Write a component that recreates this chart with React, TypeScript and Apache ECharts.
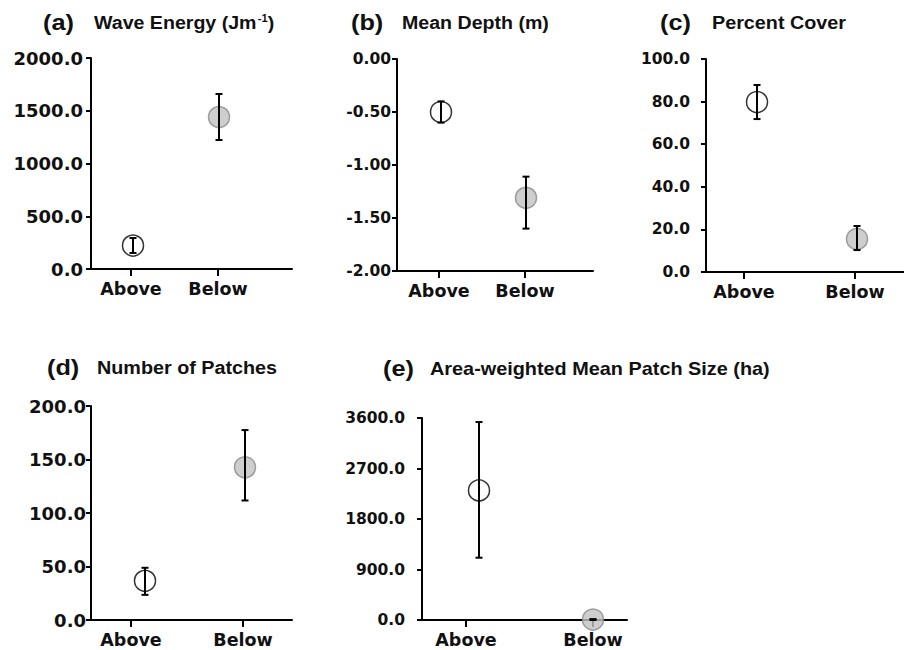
import React, { useEffect, useRef } from "react";
import * as echarts from "echarts";

// ---- data ----
const categories = ["Above", "Below"];

const waveMean = [222, 1440];
const waveLow = [152, 1223];
const waveHigh = [294, 1659];

const depthMean = [-0.5, -1.31];
const depthLow = [-0.6, -1.6];
const depthHigh = [-0.4, -1.11];

const coverMean = [79.8, 15.5];
const coverLow = [71.8, 10.3];
const coverHigh = [87.8, 21.6];

const patchMean = [36.6, 142.7];
const patchLow = [23.5, 111.7];
const patchHigh = [48.8, 177.5];

const sizeMean = [2310, 8];
const sizeLow = [1110, 0];
const sizeHigh = [3528, 16];

const yTicksWave = [0, 2000, 500];
const yTicksDepth = [-2, 0, 0.5];
const yTicksCover = [0, 100, 20];
const yTicksPatch = [0, 200, 50];
const yTicksSize = [0, 3600, 900];

// ---- layout / style (not data) ----
const FONT = "'DejaVu Sans', sans-serif";
const TFONT = "'Liberation Sans', Arial, sans-serif";

const panels = [
  {
    tag: "(a)", title: "{n|Wave Energy (Jm}{s|-1}{n|)}", tagX: 43, titleX: 94, titleY: 23, titleScale: 1.12,
    left: 91, top: 58, right: 292, bottom: 269, ticks: [131, 218], shift: [2, 1],
    labelMargin: 8, labelSize: 18, decimals: 1, yt: yTicksWave,
    mean: waveMean, low: waveLow, high: waveHigh,
  },
  {
    tag: "(b)", title: "{n|Mean Depth (m)}", tagX: 351, titleX: 402, titleY: 23, titleScale: 1.12,
    left: 397, top: 59, right: 593, bottom: 271, ticks: [439, 525], shift: [2, 1],
    labelMargin: 6, labelSize: 15.5, decimals: 2, yt: yTicksDepth,
    mean: depthMean, low: depthLow, high: depthHigh,
  },
  {
    tag: "(c)", title: "{n|Percent Cover}", tagX: 660, titleX: 712, titleY: 23, titleScale: 1.13,
    left: 706, top: 59, right: 904, bottom: 272, ticks: [744, 855], shift: [13, 2],
    labelMargin: 16, labelSize: 15.5, decimals: 1, yt: yTicksCover,
    mean: coverMean, low: coverLow, high: coverHigh,
  },
  {
    tag: "(d)", title: "{n|Number of Patches}", tagX: 47, titleX: 97, titleY: 368, titleScale: 1.13,
    left: 91, top: 406, right: 292, bottom: 620, ticks: [131, 243], shift: [14, 2],
    labelMargin: 5, labelSize: 18, decimals: 1, yt: yTicksPatch,
    mean: patchMean, low: patchLow, high: patchHigh,
  },
  {
    tag: "(e)", title: "{n|Area-weighted Mean Patch Size (ha)}", tagX: 383, titleX: 430, titleY: 369, titleScale: 1.135,
    left: 422, top: 418, right: 627, bottom: 620, ticks: [466, 593], shift: [13, 0],
    labelMargin: 17, labelSize: 15.5, decimals: 1, yt: yTicksSize,
    mean: sizeMean, low: sizeLow, high: sizeHigh,
  },
];

const markerStyles = [
  { color: "#ffffff", borderColor: "#000000", borderWidth: 1.5 },
  { color: "#c2c2c2", borderColor: "#8a8a8a", borderWidth: 1.5 },
];

function buildOption() {
  const grid: any[] = [];
  const xAxis: any[] = [];
  const yAxis: any[] = [];
  const series: any[] = [];
  const graphic: any[] = [];

  panels.forEach((p, k) => {
    const unit = p.ticks[1] - p.ticks[0];
    const xmin = 1 - (p.ticks[0] - p.left) / unit;
    const xmax = 2 + (p.right - p.ticks[1]) / unit;

    grid.push({
      left: p.left,
      top: p.top,
      width: p.right - p.left,
      height: p.bottom - p.top,
      containLabel: false,
      outerBoundsMode: "none",
    });

    xAxis.push({
      type: "value",
      gridIndex: k,
      min: xmin,
      max: xmax,
      splitLine: { show: false },
      axisLine: { onZero: false, lineStyle: { color: "#000", width: 2 } },
      axisTick: { customValues: [1, 2], length: 7, lineStyle: { color: "#000", width: 2 } },
      axisLabel: {
        customValues: [1, 2],
        formatter: (v: number) => categories[Math.round(v) - 1] ?? "",
        margin: 11,
        color: "#111",
        fontFamily: FONT,
        fontWeight: "bold",
        fontSize: 17.5,
      },
    });

    yAxis.push({
      type: "value",
      gridIndex: k,
      min: p.yt[0],
      max: p.yt[1],
      interval: p.yt[2],
      splitLine: { show: false },
      axisLine: { show: true, onZero: false, lineStyle: { color: "#000", width: 2 } },
      axisTick: { show: true, length: 5, lineStyle: { color: "#000", width: 2 } },
      axisLabel: {
        formatter: (v: number) => v.toFixed(p.decimals),
        margin: p.labelMargin,
        color: "#111",
        fontFamily: FONT,
        fontWeight: "bold",
        fontSize: p.labelSize,
      },
    });

    const xs = categories.map((_, i) => i + 1 + p.shift[i] / unit);

    series.push({
      type: "scatter",
      xAxisIndex: k,
      yAxisIndex: k,
      symbol: "circle",
      symbolSize: 21,
      clip: false,
      z: 2,
      data: categories.map((c, i) => ({
        name: c,
        value: [xs[i], p.mean[i]],
        itemStyle: markerStyles[i],
      })),
    });

    series.push({
      type: "custom",
      xAxisIndex: k,
      yAxisIndex: k,
      z: 3,
      clip: false,
      encode: { x: 0, y: [1, 2] },
      data: categories.map((_, i) => [xs[i], p.low[i], p.high[i]]),
      renderItem: (params: any, api: any) => {
        const x = api.value(0);
        const top = api.coord([x, api.value(2)]);
        const bot = api.coord([x, api.value(1)]);
        const w = 3.5;
        const st = { stroke: "#000", lineWidth: 2 };
        return {
          type: "group",
          children: [
            { type: "line", shape: { x1: top[0], y1: top[1], x2: bot[0], y2: bot[1] }, style: st },
            { type: "line", shape: { x1: top[0] - w, y1: top[1], x2: top[0] + w, y2: top[1] }, style: st },
            { type: "line", shape: { x1: bot[0] - w, y1: bot[1], x2: bot[0] + w, y2: bot[1] }, style: st },
          ],
        };
      },
    });

    graphic.push({
      type: "text",
      x: p.tagX,
      y: p.titleY,
      scaleX: 1.15,
      style: {
        text: p.tag,
        fill: "#111",
        font: `bold 22px ${TFONT}`,
        verticalAlign: "middle",
        align: "left",
      },
    });
    graphic.push({
      type: "text",
      x: p.titleX,
      y: p.titleY,
      scaleX: p.titleScale,
      style: {
        text: p.title,
        fill: "#111",
        verticalAlign: "middle",
        align: "left",
        rich: {
          n: { fontFamily: TFONT, fontWeight: "bold", fontSize: 17.5, fill: "#111", lineHeight: 20 },
          s: { fontFamily: TFONT, fontWeight: "bold", fontSize: 10, fill: "#111", verticalAlign: "top", lineHeight: 20, padding: [0, 0, 0, 1] },
        },
      },
    });
  });

  return {
    animation: false,
    backgroundColor: "#ffffff",
    grid,
    xAxis,
    yAxis,
    series,
    graphic,
  };
}

export default function App() {
  const ref = useRef<HTMLDivElement>(null);
  useEffect(() => {
    document.body.style.margin = "0";
    if (!ref.current) return;
    const chart = echarts.init(ref.current, null, { renderer: "svg" });
    chart.setOption(buildOption() as any);
    return () => chart.dispose();
  }, []);
  return <div ref={ref} style={{ width: 904, height: 650 }} />;
}
